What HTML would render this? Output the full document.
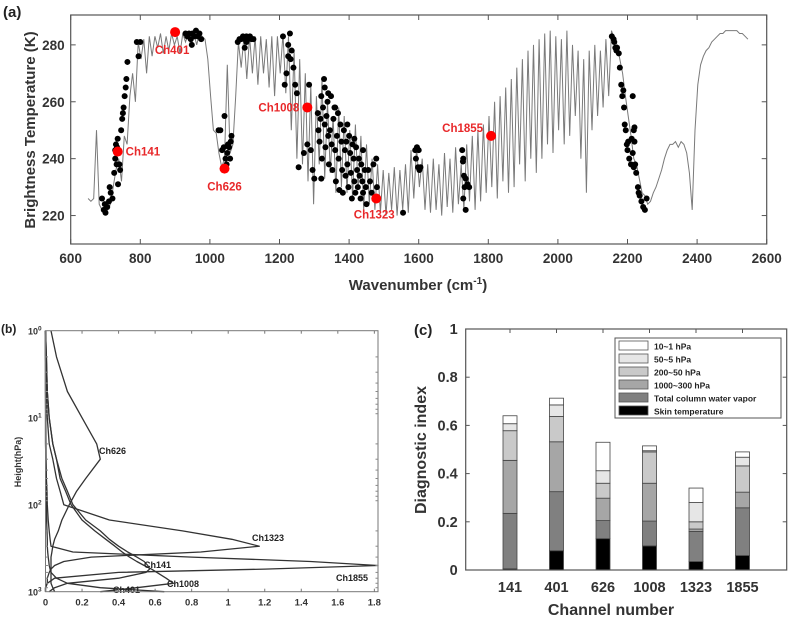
<!DOCTYPE html>
<html><head><meta charset="utf-8"><style>
html,body{margin:0;padding:0;background:#fff;}
svg{display:block;font-family:"Liberation Sans",Arial,sans-serif;}
</style></head><body>
<svg id="fig" width="795" height="619" viewBox="0 0 795 619">
<g id="pa"></g>
<g id="pb"></g>
<g id="pc"></g>
</svg>
<script>
// ---------- Panel (a) data ----------
const specStart = 650, specStep = 8;
const specBT = [
226,225,226,250,224,222,221,222,224,230,
236,240,232,248,245,262,270,260,281,275,
282,270,283,276,283,279,284,277,283,278,
284,280,283,277,284,281,284,279,284,280,
284,283,282,275,262,250,249,242,237,240,
273,242,245,262,281,272,283,268,283,270,
283,266,283,270,282,265,283,262,283,270,
284,263,283,250,278,240,275,238,270,232,
266,224,262,238,268,233,260,235,255,228,
258,230,255,228,250,226,252,229,248,222,
245,224,240,222,238,221,236,220,235,222,
237,220,236,222,238,221,243,226,244,230,
240,222,238,221,240,222,238,220,242,223,
240,221,244,224,238,222,245,225,248,222,
250,225,252,228,255,230,260,226,262,232,
265,228,268,230,272,238,275,232,278,240,
280,235,282,240,284,245,285,242,283,250,
282,245,285,248,280,255,278,240,275,228,
278,250,280,255,278,258,282,262,285,282,
280,275,270,262,255,248,240,238,233,228,
227,224,225,228,230,233,236,240,243,245,
245,246,244,246,245,242,235,222,250,266,
273,276,278,279,281,282,283,284,284,285,
285,285,285,285,284,284,283,282];
const dotWN = [695,700,705,710,715,720,690,698,712,725,728,730,732,735,738,740,742,745,748,750,752,755,758,760,763,728,733,736,790,795,800,930,935,940,945,950,955,960,965,970,975,948,1025,1030,1040,1042,1045,1048,1050,1052,1055,1058,1060,1062,1035,1080,1085,1090,1095,1100,1105,1110,1115,1120,1125,1100,1105,1210,1215,1220,1225,1230,1232,1235,1240,1245,1250,1225,1255,1270,1285,1290,1295,1300,1280,1310,1312,1315,1318,1320,1322,1325,1328,1330,1332,1335,1338,1340,1342,1345,1348,1350,1352,1355,1358,1360,1362,1365,1368,1370,1372,1375,1378,1380,1382,1385,1388,1390,1392,1395,1398,1400,1403,1405,1408,1410,1413,1415,1418,1420,1423,1425,1428,1430,1433,1435,1438,1440,1445,1448,1450,1455,1460,1465,1470,1475,1478,1480,1330,1395,1415,1440,1360,1320,1340,1555,1590,1595,1598,1600,1602,1605,1592,1725,1727,1728,1730,1732,1735,1740,1745,1728,1735,2155,2160,2162,2165,2168,2170,2175,2178,2182,2185,2188,2190,2192,2195,2198,2200,2202,2205,2210,2212,2215,2218,2220,2222,2225,2230,2232,2235,2240,2245,2250,2255,2215,2220,2218];
const dotBT = [222,221,223,225,228,226,226,224,230,235,240,245,238,247,242,238,236,250,254,256,258,262,265,268,274,243,244,231,281,276,281,284,283,284,282,284,283,285,283,284,282,280,250,250,244,255,240,238,242,245,244,240,246,248,243,281,282,282,283,282,283,282,283,282,282,279,281,283,266,270,280,284,275,278,272,266,263,276,237,242,266,243,236,233,245,256,250,246,254,262,240,258,268,252,244,255,260,248,238,250,262,245,236,254,258,243,232,248,256,240,229,252,246,236,228,250,243,234,246,238,230,248,242,235,226,245,240,232,228,244,236,230,240,234,226,238,232,228,236,230,224,236,232,228,238,226,240,230,265,252,247,243,258,233,263,221,243,244,237,243,236,237,240,243,239,240,234,230,233,231,230,226,222,283,282,281,279,278,279,277,272,266,262,264,258,252,250,245,243,246,240,238,247,242,250,251,238,235,230,228,227,225,223,222,226,262,246,237];
const chNames = ["Ch141","Ch401","Ch626","Ch1008","Ch1323","Ch1855"];
const chWN = [735,900,1042,1280,1478,1808];
const chBT = [242.5,284.5,236.5,258,226,248];
const aXTicks = [600,800,1000,1200,1400,1600,1800,2000,2200,2400,2600];
const aYTicks = [220,240,260,280];

// ---------- Panel (b) data ----------
const pLevels = [1,2,5,10,20,30,50,70,100,150,200,250,300,350,400,450,500,550,600,700,800,900,1000];
const wf626  = [0.03,0.06,0.12,0.2,0.28,0.30,0.22,0.17,0.13,0.09,0.07,0.05,0.04,0.035,0.03,0.03,0.03,0.03,0.03,0.03,0.03,0.04,0.05];
const wf1323 = [0,0,0.005,0.01,0.02,0.04,0.06,0.08,0.1,0.35,0.75,1.02,1.17,0.85,0.25,0.1,0.05,0.03,0.02,0.01,0.01,0.0,0.0];
const wf1855 = [0,0,0,0,0,0.002,0.005,0.008,0.01,0.015,0.02,0.025,0.03,0.15,0.8,1.45,1.82,1.2,0.4,0.05,0.01,0.0,0.0];
const wf141  = [0,0.005,0.01,0.02,0.04,0.06,0.09,0.12,0.15,0.22,0.3,0.35,0.4,0.45,0.5,0.54,0.56,0.57,0.55,0.4,0.12,0.05,0.02];
const wf1008 = [0,0.005,0.01,0.02,0.04,0.06,0.08,0.11,0.14,0.2,0.27,0.33,0.38,0.42,0.46,0.5,0.54,0.58,0.61,0.66,0.7,0.5,0.3];
const wf401  = [0,0,0,0.001,0.002,0.003,0.004,0.005,0.005,0.006,0.008,0.01,0.01,0.012,0.015,0.018,0.02,0.025,0.03,0.06,0.12,0.3,0.65];
const bCurves = [wf626,wf1323,wf1855,wf141,wf1008,wf401];
const bXTicks = [0,0.2,0.4,0.6,0.8,1,1.2,1.4,1.6,1.8];
const bYDecades = [0,1,2,3];

// ---------- Panel (c) data ----------
const channels = ["141","401","626","1008","1323","1855"];
const layerNames = ["Skin temperature","Total column water vapor","1000~300 hPa","200~50 hPa","50~5 hPa","10~1 hPa"];
const skinT  = [0.005,0.08,0.13,0.10,0.035,0.06];
const tcwv   = [0.23,0.245,0.075,0.103,0.125,0.198];
const lay1000= [0.22,0.207,0.093,0.157,0.01,0.065];
const lay200 = [0.123,0.105,0.062,0.13,0.03,0.109];
const lay50  = [0.029,0.048,0.052,0.005,0.08,0.036];
const lay10  = [0.033,0.028,0.118,0.02,0.06,0.022];
const cYTicks = [0,0.2,0.4,0.6,0.8,1];
const layerFill = ["#000000","#808080","#a6a6a6","#c9c9c9","#e6e6e6","#ffffff"];

const NS="http://www.w3.org/2000/svg";
function mk(parent,tag,attrs,txt){const e=document.createElementNS(NS,tag);for(const k in attrs)e.setAttribute(k,attrs[k]);if(txt!==undefined)e.textContent=txt;parent.appendChild(e);return e;}

// ===== Panel A =====
(function(){
const g=document.getElementById('pa');
const L=70.7,R=766.7,T=15,B=244;
const xS=v=>L+(v-600)/2000*(R-L);
const yS=v=>B-(v-210)/(290.5-210)*(B-T);
let d="";
specBT.forEach((v,i)=>{d+=(i?"L":"M")+xS(specStart+i*specStep).toFixed(1)+","+yS(v).toFixed(1);});
const sp=mk(g,'path',{d:d,fill:'none',stroke:'#7a7a7a','stroke-width':1});


dotWN.forEach((w,i)=>{
 const c=mk(g,'circle',{cx:xS(w),cy:yS(dotBT[i]),r:3,fill:'#000'});
 
 
});
const lblOff=[[8,4,'start'],[-3,22,'middle'],[0,22,'middle'],[-8,4,'end'],[-2,20,'middle'],[-8,-4,'end']];
chWN.forEach((w,i)=>{
 const c=mk(g,'circle',{cx:xS(w),cy:yS(chBT[i]),r:5,fill:'#ff0000'});
 
 
 const o=lblOff[i];
 const t=mk(g,'text',{x:xS(w)+o[0],y:yS(chBT[i])+o[1],'font-size':11.5,'font-weight':'bold',fill:'#e8282a','text-anchor':o[2]},chNames[i]);
 
 
});
const fr=mk(g,'rect',{x:L,y:T,width:R-L,height:B-T,fill:'none',stroke:'#555','stroke-width':1.2});


aXTicks.forEach(v=>{
 mk(g,'line',{x1:xS(v),x2:xS(v),y1:B,y2:B-5,stroke:'#555'});
 mk(g,'line',{x1:xS(v),x2:xS(v),y1:T,y2:T+5,stroke:'#555'});
 const t=mk(g,'text',{x:xS(v),y:B+19,'font-size':13.5,'font-weight':'bold',fill:'#333','text-anchor':'middle'},v);
 
 
});
aYTicks.forEach(v=>{
 mk(g,'line',{x1:L,x2:L+5,y1:yS(v),y2:yS(v),stroke:'#555'});
 mk(g,'line',{x1:R,x2:R-5,y1:yS(v),y2:yS(v),stroke:'#555'});
 const t=mk(g,'text',{x:L-6,y:yS(v)+5,'font-size':13.5,'font-weight':'bold',fill:'#333','text-anchor':'end'},v);
 
 
});
const xt=mk(g,'text',{x:418,y:290,'font-size':15,'font-weight':'bold',fill:'#333','text-anchor':'middle'});
xt.innerHTML='Wavenumber (cm<tspan dy="-6" font-size="10">-1</tspan><tspan dy="6">)</tspan>';


const yt=mk(g,'text',{x:0,y:0,'font-size':15,'font-weight':'bold',fill:'#333','text-anchor':'middle',transform:'translate(35,130) rotate(-90)'},'Brightness Temperature (K)');


const pl=mk(g,'text',{x:3,y:17,'font-size':15,'font-weight':'bold',fill:'#222'},'(a)');


})();

// ===== Panel B =====
(function(){
const g=document.getElementById('pb');
const L=45.5,R=378,T=330.7,B=591.7;
const xS=v=>L+v*182.7;
const yS=p=>T+Math.log10(p)*87;
bCurves.forEach((arr,ci)=>{
 let d="";arr.forEach((v,i)=>{d+=(i?"L":"M")+xS(v).toFixed(1)+","+yS(pLevels[i]).toFixed(1);});
 const p=mk(g,'path',{d:d,fill:'none',stroke:'#333','stroke-width':1.3,'stroke-linejoin':'round'});
 
 
});
const labs=[["Ch626",99,454],["Ch1323",252,541],["Ch141",144,568],["Ch1855",336,581],["Ch1008",167,587],["Ch401",113,593]];
labs.forEach(l=>{
 const t=mk(g,'text',{x:l[1],y:l[2],'font-size':9,'font-weight':'bold',fill:'#222'},l[0]);
 
 
});
const fr=mk(g,'rect',{x:L,y:T,width:R-L,height:B-T,fill:'none',stroke:'#777','stroke-width':1});


bXTicks.forEach(v=>{
 mk(g,'line',{x1:xS(v),x2:xS(v),y1:B,y2:B-3,stroke:'#777'});
 mk(g,'line',{x1:xS(v),x2:xS(v),y1:T,y2:T+3,stroke:'#777'});
 const t=mk(g,'text',{x:xS(v),y:B+14,'font-size':9.5,'font-weight':'bold',fill:'#333','text-anchor':'middle'},v);
 
 
});
bYDecades.forEach(k=>{
 const y=T+k*87;
 const t=mk(g,'text',{x:28,y:y+4,'font-size':9,'font-weight':'bold',fill:'#333'});
 t.innerHTML='10<tspan dy="-4" font-size="6.5">'+k+'</tspan>';
 
 
 if(k<3){for(let m=2;m<=9;m++){const yy=T+(k+Math.log10(m))*87;mk(g,'line',{x1:R,x2:R-2.5,y1:yy,y2:yy,stroke:'#888'});mk(g,'line',{x1:L,x2:L+2.5,y1:yy,y2:yy,stroke:'#888'});}}
});
const yt=mk(g,'text',{x:0,y:0,'font-size':9,'font-weight':'bold',fill:'#333','text-anchor':'middle',transform:'translate(21,462) rotate(-90)'},'Height(hPa)');


const pl=mk(g,'text',{x:1,y:333,'font-size':12,'font-weight':'bold',fill:'#222'},'(b)');


})();

// ===== Panel C =====
(function(){
const g=document.getElementById('pc');
const L=465.7,R=786.7,T=329,B=570;
const x0=510,dx=46.5,bw=14;
const yS=v=>B-v*(B-T);
const layers=[skinT,tcwv,lay1000,lay200,lay50,lay10];
channels.forEach((ch,i)=>{
 let base=0;
 layers.forEach((arr,li)=>{
  const v=arr[i];
  const r=mk(g,'rect',{x:x0+i*dx-bw/2,y:yS(base+v),width:bw,height:v*(B-T),fill:layerFill[li],stroke:'#444','stroke-width':0.8});
  
  
  base+=v;
 });
 const t=mk(g,'text',{x:x0+i*dx,y:592,'font-size':14.5,'font-weight':'bold',fill:'#333','text-anchor':'middle'},ch);
 
 
 mk(g,'line',{x1:x0+i*dx,x2:x0+i*dx,y1:T,y2:T+4,stroke:'#555'});
});
const fr=mk(g,'rect',{x:L,y:T,width:R-L,height:B-T,fill:'none',stroke:'#555','stroke-width':1.2});


cYTicks.forEach(v=>{
 mk(g,'line',{x1:L,x2:L+4,y1:yS(v),y2:yS(v),stroke:'#555'});
 mk(g,'line',{x1:R,x2:R-4,y1:yS(v),y2:yS(v),stroke:'#555'});
 const t=mk(g,'text',{x:L-8,y:yS(v)+5,'font-size':14.5,'font-weight':'bold',fill:'#333','text-anchor':'end'},v);
 
 
});
const lg=mk(g,'g',{});


mk(lg,'rect',{x:615,y:338,width:166,height:80,fill:'#fff',stroke:'#555','stroke-width':1});
for(let k=0;k<6;k++){
 const li=5-k; const y=341+k*13;
 const s=mk(lg,'rect',{x:619,y:y,width:29,height:9,fill:layerFill[li],stroke:'#555','stroke-width':0.8});
 
 
 const t=mk(lg,'text',{x:654,y:y+8.5,'font-size':8.5,'font-weight':'bold',fill:'#222'},layerNames[li]);
 
 
}
const xt=mk(g,'text',{x:611,y:615,'font-size':16,'font-weight':'bold',fill:'#333','text-anchor':'middle'},'Channel number');


const yt=mk(g,'text',{x:0,y:0,'font-size':16,'font-weight':'bold',fill:'#333','text-anchor':'middle',transform:'translate(426,450) rotate(-90)'},'Diagnostic index');


const pl=mk(g,'text',{x:414,y:335,'font-size':15,'font-weight':'bold',fill:'#222'},'(c)');


})();
</script>
</body></html>
